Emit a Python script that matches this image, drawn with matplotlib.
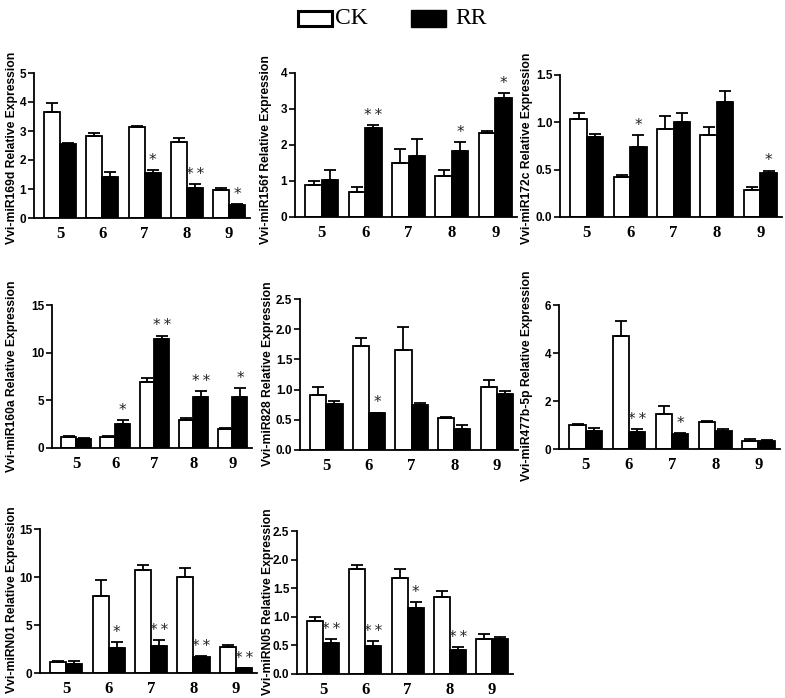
import matplotlib
matplotlib.use("Agg")
import matplotlib.pyplot as plt
import numpy as np
from matplotlib.patches import Rectangle

W, H = 785, 698

categories = ["5", "6", "7", "8", "9"]

names = ["Vvi-miR169d", "Vvi-miR156f", "Vvi-miR172c", "Vvi-miR160a",
         "Vvi-miR828", "Vvi-miR477b-5p", "Vvi-miRN01", "Vvi-miRN05"]

ck_mean = [
    [3.65, 2.83, 3.13, 2.62, 0.97],
    [0.88, 0.70, 1.51, 1.14, 2.32],
    [1.04, 0.42, 0.93, 0.87, 0.29],
    [1.15, 1.15, 6.97, 2.93, 1.99],
    [0.91, 1.73, 1.66, 0.53, 1.04],
    [1.00, 4.72, 1.47, 1.12, 0.34],
    [1.15, 7.99, 10.76, 10.0, 2.67],
    [0.92, 1.84, 1.68, 1.35, 0.62],
]
ck_err = [
    [0.33, 0.11, 0.04, 0.14, 0.08],
    [0.12, 0.13, 0.39, 0.16, 0.06],
    [0.06, 0.02, 0.14, 0.08, 0.03],
    [0.10, 0.13, 0.33, 0.24, 0.11],
    [0.13, 0.12, 0.37, 0.01, 0.12],
    [0.05, 0.63, 0.32, 0.03, 0.07],
    [0.10, 1.66, 0.49, 0.90, 0.21],
    [0.07, 0.07, 0.16, 0.10, 0.08],
]
rr_mean = [
    [2.55, 1.40, 1.55, 1.05, 0.45],
    [1.04, 2.47, 1.69, 1.83, 3.30],
    [0.84, 0.74, 1.00, 1.21, 0.47],
    [0.95, 2.50, 11.40, 5.40, 5.33],
    [0.76, 0.61, 0.75, 0.35, 0.93],
    [0.75, 0.71, 0.63, 0.75, 0.33],
    [0.90, 2.60, 2.78, 1.63, 0.49],
    [0.54, 0.49, 1.16, 0.42, 0.62],
]
rr_err = [
    [0.02, 0.19, 0.10, 0.11, 0.02],
    [0.26, 0.08, 0.47, 0.25, 0.15],
    [0.04, 0.13, 0.10, 0.12, 0.02],
    [0.05, 0.46, 0.40, 0.56, 0.94],
    [0.05, 0.01, 0.02, 0.06, 0.05],
    [0.11, 0.12, 0.02, 0.10, 0.05],
    [0.30, 0.60, 0.62, 0.17, 0.03],
    [0.07, 0.08, 0.10, 0.05, 0.03],
]
rr_sig = [
    ["", "", "*", "**", "*"],
    ["", "**", "", "*", "*"],
    ["", "*", "", "", "*"],
    ["", "*", "**", "**", "*"],
    ["", "*", "", "", ""],
    ["", "**", "*", "", ""],
    ["", "*", "**", "**", "**"],
    ["**", "**", "*", "**", ""],
]
y_max = [5, 4, 1.5, 15, 2.5, 6, 15, 2.5]
y_step = [1, 1, 0.5, 5, 0.5, 2, 5, 0.5]
y_fmt = ["%d", "%d", "%.1f", "%d", "%.1f", "%d", "%d", "%.1f"]

# layout in pixels: left, right, top, bottom of each axes
boxes = [
    (34, 250, 73, 218),
    (295, 517, 73, 217),
    (560, 782, 75, 217),
    (52, 252, 305, 448),
    (300, 518, 299, 450),
    (559, 780, 305, 449),
    (40, 257, 529, 673),
    (297, 513, 531, 674),
]
label_pos = [(12, 148), (266, 150), (527, 148), (12, 376), (268, 374),
             (527, 376), (12, 600), (268, 602)]

sans = ["Liberation Sans", "DejaVu Sans"]
serif = ["Liberation Serif", "DejaVu Serif"]

fig = plt.figure(figsize=(W / 100, H / 100), dpi=100)

bw = 0.38
x = np.arange(len(categories))
for i in range(8):
    l, r, t, b = boxes[i]
    ax = fig.add_axes([l / W, 1 - b / H, (r - l) / W, (b - t) / H])
    ax.bar(x - bw / 2, ck_mean[i], bw, color="white", edgecolor="black",
           linewidth=1.3, zorder=2)
    ax.bar(x + bw / 2, rr_mean[i], bw, color="black", edgecolor="black",
           linewidth=1.3, zorder=2)
    ax.errorbar(x - bw / 2, ck_mean[i], yerr=[np.zeros(5), ck_err[i]], fmt="none",
                ecolor="black", elinewidth=1.3, capsize=4, capthick=1.3, zorder=3)
    ax.errorbar(x + bw / 2, rr_mean[i], yerr=[np.zeros(5), rr_err[i]], fmt="none",
                ecolor="black", elinewidth=1.3, capsize=4, capthick=1.3, zorder=3)
    for j in range(5):
        s = rr_sig[i][j]
        if s:
            ax.text(x[j] + bw / 2, rr_mean[i][j] + rr_err[i][j] + y_max[i] * 0.015,
                    "\u2009".join(s), ha="center", va="bottom", fontsize=11,
                    family=["DejaVu Sans"], color="#222222")
    ax.set_xlim(-0.62, 4.5)
    ax.set_ylim(0, y_max[i])
    ticks = np.arange(0, y_max[i] + 1e-9, y_step[i])
    ax.set_yticks(ticks)
    ax.set_yticklabels([y_fmt[i] % v for v in ticks], family=sans,
                       fontweight="bold", fontsize=8.5)
    ax.set_xticks(x)
    ax.set_xticklabels(categories, family=serif, fontweight="bold", fontsize=12)
    ax.tick_params(axis="x", length=0, pad=6)
    ax.tick_params(axis="y", length=4, width=1.2, pad=1.5)
    for sp in ["top", "right"]:
        ax.spines[sp].set_visible(False)
    for sp in ["left", "bottom"]:
        ax.spines[sp].set_linewidth(1.3)
    fig.text(label_pos[i][0] / W, 1 - label_pos[i][1] / H,
             names[i] + " Relative Expression", rotation=90, ha="center",
             va="center", family=sans, fontweight="bold", fontsize=8.7)

# legend
fig.patches.append(Rectangle((298 / W, 1 - 26 / H), 34 / W, 15 / H, transform=fig.transFigure,
                             facecolor="white", edgecolor="black", linewidth=2.2))
fig.text(335 / W, 1 - 19 / H, "CK", family=serif, fontsize=17, va="center", ha="left")
fig.patches.append(Rectangle((411 / W, 1 - 27 / H), 35 / W, 17 / H, transform=fig.transFigure,
                             facecolor="black", edgecolor="black", linewidth=1))
fig.text(455 / W, 1 - 19 / H, "RR", family=serif, fontsize=17, va="center", ha="left")

fig.savefig("out.png", dpi=100)
